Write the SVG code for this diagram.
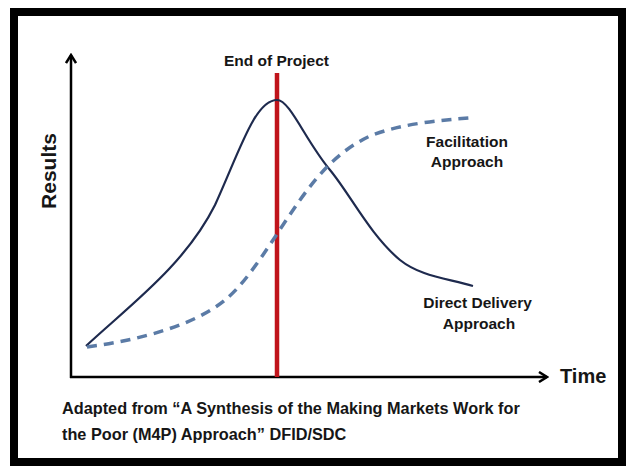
<svg xmlns="http://www.w3.org/2000/svg" width="628" height="468" viewBox="0 0 628 468">
  <style>
    .lbl { font-family: "Liberation Sans", Arial, sans-serif; font-weight: bold; fill: #161616; }
    .axis { stroke: #000; stroke-width: 2.5; fill: none; }
  </style>
  <defs>
    <marker id="chev" markerUnits="userSpaceOnUse" viewBox="0 0 12 12" markerWidth="12" markerHeight="12" refX="10" refY="6" orient="auto">
      <path d="M2,1 L10,6 L2,11" fill="none" stroke="#000" stroke-width="2.5"/>
    </marker>
  </defs>
  <rect width="628" height="468" fill="#fff"/>
  <g id="frame">
    <rect x="14" y="12" width="608" height="450" fill="none" stroke="#000" stroke-width="8"/>
  </g>
  <g id="axes">
    <line class="axis" x1="71" y1="378" x2="71" y2="55" marker-end="url(#chev)"/>
    <line class="axis" x1="70" y1="377" x2="547" y2="377" marker-end="url(#chev)"/>
    <text class="lbl" x="560" y="383" font-size="20">Time</text>
    <text class="lbl" font-size="21" text-anchor="middle" transform="translate(56,171) rotate(-90)">Results</text>
  </g>
  <g id="end-of-project">
    <line x1="277" y1="73" x2="277" y2="377" stroke="#C0141B" stroke-width="4.5"/>
    <text class="lbl" x="276.5" y="66" font-size="15.5" text-anchor="middle">End of Project</text>
  </g>
  <g id="connectors">
    <path id="direct-delivery-curve" d="M86,346 C130,305 185,265 215,205 C240,150 255,100 277,100 C290,100 305,140 330,170 C350,194 370,235 400,260 C420,276 445,278 473,286" fill="none" stroke="#1E2A4E" stroke-width="2.2"/>
    <path id="facilitation-curve" d="M87,347 C140,340 195,325 225,300 C250,280 275,235 300,200 C320,172 340,150 370,136 C400,124 440,120 470,118" fill="none" stroke="#5B7BA6" stroke-width="3.5" stroke-dasharray="10 7"/>
  </g>
  <g id="facilitation-label">
    <text class="lbl" x="467" y="147" font-size="15.5" text-anchor="middle">Facilitation</text>
    <text class="lbl" x="467" y="167" font-size="15.5" text-anchor="middle">Approach</text>
  </g>
  <g id="direct-delivery-label">
    <text class="lbl" x="477.5" y="308" font-size="15.5" text-anchor="middle">Direct Delivery</text>
    <text class="lbl" x="479" y="329" font-size="15.5" text-anchor="middle">Approach</text>
  </g>
  <g id="caption">
    <text class="lbl" x="62" y="414" font-size="16.3">Adapted from “A Synthesis of the Making Markets Work for</text>
    <text class="lbl" x="62" y="440" font-size="16.3">the Poor (M4P) Approach” DFID/SDC</text>
  </g>
</svg>
